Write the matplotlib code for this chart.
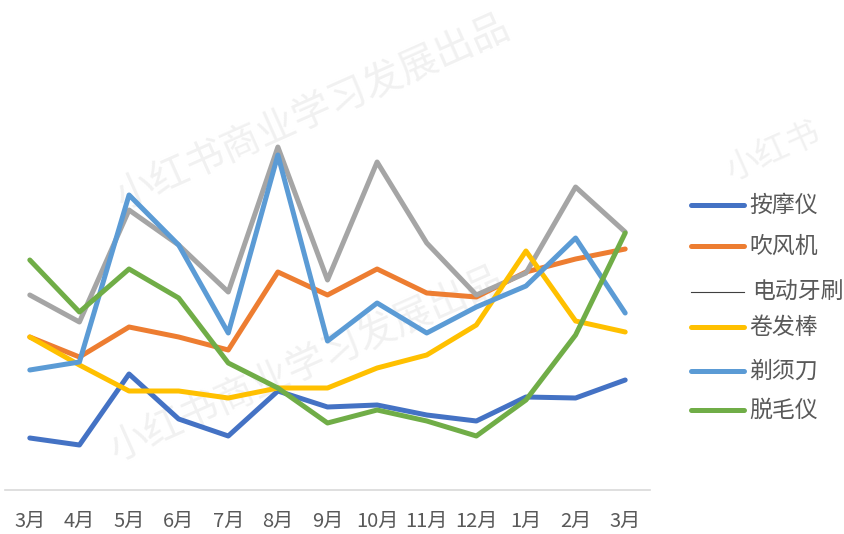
import matplotlib
matplotlib.use("Agg")
import matplotlib.pyplot as plt
from matplotlib.lines import Line2D

plt.rcParams["font.family"] = ["Noto Sans CJK SC", "DejaVu Sans"]

months = ["3月", "4月", "5月", "6月", "7月", "8月", "9月", "10月", "11月", "12月", "1月", "2月", "3月"]

# relative index values (no y axis shown)
massager = [52, 45, 116, 71, 54, 99, 83, 85, 75, 69, 93, 92, 110]
hair_dryer = [153, 133, 163, 153, 140, 218, 195, 221, 197, 193, 218, 231, 241]
toothbrush = [195, 168, 280, 245, 198, 343, 210, 328, 247, 195, 217, 303, 258]
curler = [153, 125, 99, 99, 92, 102, 102, 122, 135, 165, 239, 169, 158]
shaver = [120, 128, 295, 245, 157, 335, 149, 187, 157, 183, 204, 252, 177]
epilator = [230, 178, 221, 192, 127, 102, 67, 80, 69, 54, 90, 155, 257]

series = [
    ("按摩仪", massager, "#4472C4"),
    ("吹风机", hair_dryer, "#ED7D31"),
    ("电动牙刷", toothbrush, "#A5A5A5"),
    ("卷发棒", curler, "#FFC000"),
    ("剃须刀", shaver, "#5B9BD5"),
    ("脱毛仪", epilator, "#70AD47"),
]

W, H = 845, 534
fig = plt.figure(figsize=(W / 100, H / 100), dpi=100, facecolor="white")
ax = fig.add_axes([5 / W, 44 / H, 645 / W, 480 / H])
ax.set_zorder(2)
ax.patch.set_alpha(0)

# faint watermark, behind the lines
for px, py, txt, size in [(118, 200, "小红书商业学习发展出品", 28),
                          (112, 452, "小红书商业学习发展出品", 28),
                          (728, 172, "小红书", 24)]:
    fig.text(px / W, 1 - py / H, txt, fontsize=size, color="#f1f1f1",
             rotation=24, rotation_mode="anchor", ha="left", va="center", zorder=0)

x = list(range(len(months)))
for name, vals, color in series:
    ax.plot(x, vals, color=color, lw=3.6, solid_joinstyle="round",
            solid_capstyle="round", zorder=3)

ax.set_xlim(-0.5, len(months) - 0.5)
ax.set_ylim(0, 480)
ax.set_xticks(x)
ax.set_xticklabels(months, fontsize=14.5, color="#595959")
ax.tick_params(axis="x", length=0, pad=15)
ax.set_yticks([])
for side in ("top", "right", "left"):
    ax.spines[side].set_visible(False)
ax.spines["bottom"].set_color("#D9D9D9")
ax.spines["bottom"].set_linewidth(1.2)

# legend drawn by hand to keep the uneven spacing of the original
legend_y = [205, 246, 292, 327, 371, 410]
for (name, vals, color), ly in zip(series, legend_y):
    yy = 1 - ly / H
    if name == "电动牙刷":
        fig.add_artist(Line2D([691 / W, 744 / W], [yy, yy], color="#404040", lw=0.8))
        tx = 752
    else:
        fig.add_artist(Line2D([691 / W, 744 / W], [yy, yy], color=color, lw=3.6,
                              solid_capstyle="round"))
        tx = 749
    fig.text(tx / W, yy, name, fontsize=16.5, color="#595959", va="center", ha="left")

fig.savefig("out.png", dpi=100, facecolor="white")
